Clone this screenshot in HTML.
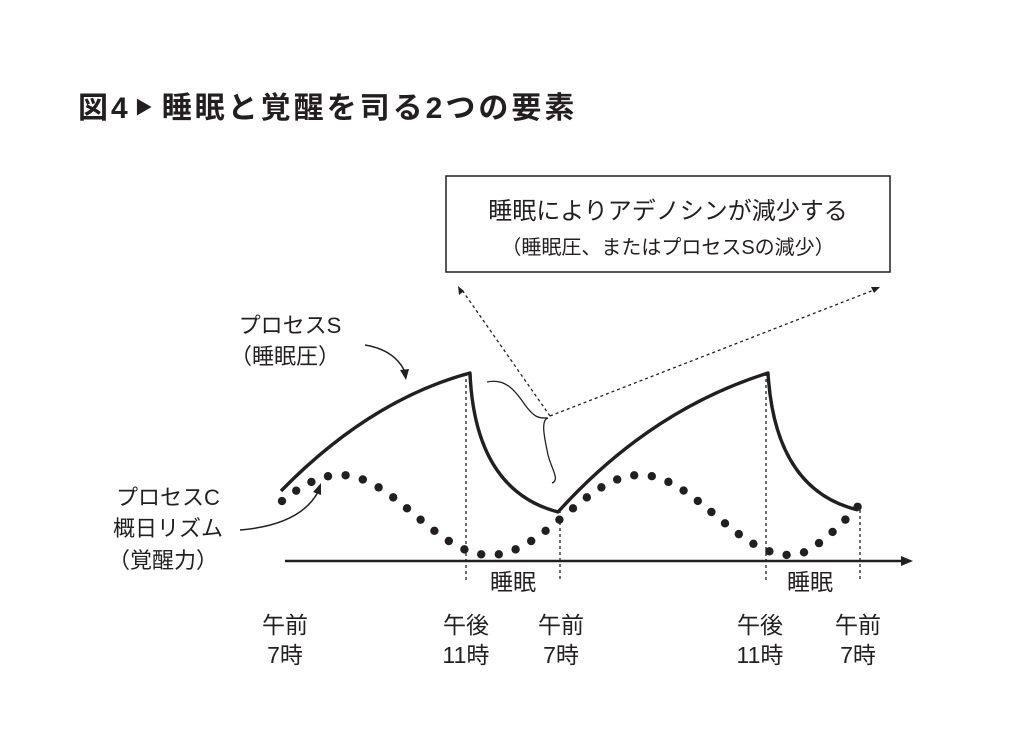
<!DOCTYPE html>
<html><head><meta charset="utf-8"><style>
body{margin:0;background:#fff;}
svg{display:block}
text{font-family:"Liberation Sans","Noto Sans CJK JP",sans-serif;fill:#231f20}
</style></head><body>
<svg id="s" width="1024" height="753" viewBox="0 0 1024 753">
<text x="78" y="118" font-size="30" font-weight="bold" letter-spacing="3">図4<tspan font-size="18" dx="4" dy="-4">▶</tspan><tspan dx="6" dy="4">睡眠と覚醒を司る2つの要素</tspan></text>
<rect x="446" y="176" width="444" height="96" fill="none" stroke="#231f20" stroke-width="1.5"/>
<text x="668" y="219" font-size="24" text-anchor="middle">睡眠によりアデノシンが減少する</text>
<text x="668" y="254" font-size="20" text-anchor="middle">（睡眠圧、またはプロセスSの減少）</text>
<g stroke="#231f20" stroke-width="1.3" stroke-dasharray="3,3" fill="none">
<line x1="550" y1="416" x2="462" y2="290"/>
<line x1="550" y1="416" x2="874" y2="290"/>
<line x1="466" y1="373" x2="466" y2="582"/>
<line x1="560" y1="510" x2="560" y2="582"/>
<line x1="766" y1="373" x2="766" y2="582"/>
<line x1="860" y1="510" x2="860" y2="582"/>
</g>
<path d="M458,286 l1,9 l5,-4z M880,287 l-9,0 l3,6z" fill="#231f20"/>
<path d="M487,382 C505,378 515,390 525,405 C535,418 538,418 548,418 C540,420 545,440 548,455 C552,470 560,480 552,483" fill="none" stroke="#231f20" stroke-width="1.3"/>
<line x1="285" y1="561" x2="905" y2="561" stroke="#231f20" stroke-width="2.5"/>
<path d="M913,561 l-12,-5 l0,10z" fill="#231f20"/>
<path d="M281,491 Q370,400 470,373 Q475,490 558,512 Q650,410 768,373 Q775,490 858,510" fill="none" stroke="#231f20" stroke-width="3.4" stroke-linejoin="round"/>
<path d="M365,345 Q395,350 405,372" fill="none" stroke="#231f20" stroke-width="1.5"/>
<path d="M406,380 l-6,-10 l9,-1z" fill="#231f20"/>
<path d="M240,530 Q300,525 318,492" fill="none" stroke="#231f20" stroke-width="1.5"/>
<path d="M321,483 l-8,9 l8,3z" fill="#231f20"/>
<g id="dots" fill="#231f20"></g>
<g font-size="22" text-anchor="middle">
<text x="290" y="333">プロセスS</text>
<text x="285" y="364">（睡眠圧）</text>
<text x="168" y="505">プロセスC</text>
<text x="168" y="536">概日リズム</text>
<text x="163" y="568">（覚醒力）</text>
</g>
<g font-size="23" text-anchor="middle">
<text x="513" y="590">睡眠</text>
<text x="810" y="590">睡眠</text>
<text x="285" y="633">午前</text><text x="285" y="663">7時</text>
<text x="466" y="633">午後</text><text x="466" y="663">11時</text>
<text x="561" y="633">午前</text><text x="561" y="663">7時</text>
<text x="760" y="633">午後</text><text x="760" y="663">11時</text>
<text x="858" y="633">午前</text><text x="858" y="663">7時</text>
</g>
</svg>
<script>
var g=document.getElementById('dots'),ns='http://www.w3.org/2000/svg';
function f(x){var y=515-40*Math.cos(2*Math.PI*(x-340)/300);if(x>800){y-=(x-800)*0.25;}return y;}
var x=282,px=x,py=f(x),pts=[[x,py]];
for(var t=282;t<=858;t+=0.2){var y=f(t);if(Math.hypot(t-px,y-py)>=17.5){pts.push([t,y]);px=t;py=y;}}
pts.forEach(function(p){var c=document.createElementNS(ns,'circle');c.setAttribute('cx',p[0]);c.setAttribute('cy',p[1]);c.setAttribute('r',4.2);g.appendChild(c);});
</script>
</body></html>
